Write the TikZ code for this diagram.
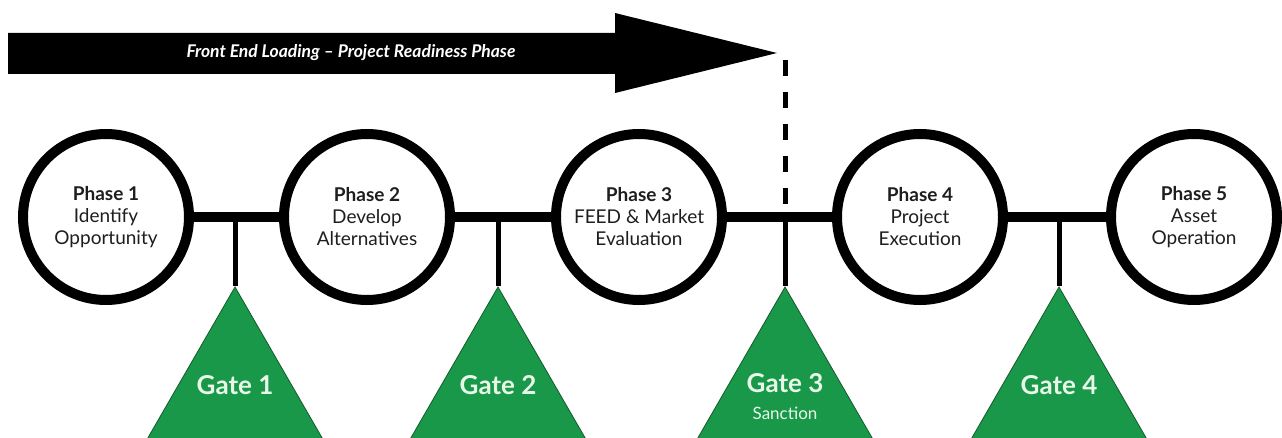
\documentclass[tikz,border=0pt]{standalone}
\usepackage{fontspec}
\setmainfont{Lato}
\usetikzlibrary{shapes.geometric}
\definecolor{gategreen}{RGB}{24,152,72}
\definecolor{gateedge}{RGB}{20,90,45}
\definecolor{gatetxt}{RGB}{232,248,232}
\definecolor{ink}{RGB}{30,30,30}
\tikzset{
  phase/.style={circle, draw=black, line width=10pt, fill=white, minimum size=166pt,
    inner sep=0pt, align=center, text=ink, font=\fontsize{19}{22}\selectfont},
  gate/.style={regular polygon, regular polygon sides=3, minimum size=208pt, inner sep=0pt,
    fill=gategreen, draw=gateedge, line width=0.8pt},
  gatetext/.style={text=gatetxt, font=\fontsize{26}{30}\selectfont\bfseries, align=center},
  bar/.style={line width=10pt},
  stem/.style={line width=5pt},
  dashline/.style={line width=5pt, dash pattern=on 16pt off 16pt},
}
\begin{document}
\begin{tikzpicture}[x=1pt,y=-1pt]
\useasboundingbox (0,0) rectangle (1282,438);
% big arrow
\fill[black] (8,33) -- (615,33) -- (615,13) -- (777,53) -- (615,93) -- (615,74) -- (8,74) -- cycle;
\node[text=white, font=\fontsize{17.5}{20}\selectfont\bfseries\itshape] (fel) at (351,53)
  {Front End Loading -- Project Readiness Phase};
% gates
\node[gate] (g1) at (235,391) {};
\node[gate] (g2) at (498,391) {};
\node[gate] (g3) at (785,391) {};
\node[gate] (g4) at (1059,391) {};
% phases
\node[phase] (p1) at (106,217) {\textbf{Phase 1}\\Identify\\Opportunity};
\node[phase] (p2) at (367,217) {\textbf{Phase 2}\\Develop\\Alternatives};
\node[phase] (p3) at (639,217) {\textbf{Phase 3}\\FEED \& Market\\Evaluation};
\node[phase] (p4) at (920,217) {\textbf{Phase 4}\\Project\\Execution};
\node[phase] (p5) at (1194,217) {\textbf{Phase 5}\\Asset\\Operation};
% bars
\draw[bar] (p1.east) -- (p2.west);
\draw[bar] (p2.east) -- (p3.west);
\draw[bar] (p3.east) -- (p4.west);
\draw[bar] (p4.east) -- (p5.west);
% stems
\coordinate (j1) at (g1.north |- p1.east);
\coordinate (j2) at (g2.north |- p1.east);
\coordinate (j3) at (g3.north |- p1.east);
\coordinate (j4) at (g4.north |- p1.east);
\draw[stem] (j1) -- (g1.north);
\draw[stem] (j2) -- (g2.north);
\draw[stem] (j3) -- (g3.north);
\draw[stem] (j4) -- (g4.north);
% dashed line from arrow tip
\coordinate (tipc) at (785,60);
\draw[dashline] (tipc) -- (j3);
% gate labels
\node[gatetext] (t1) at ([yshift=6pt]g1.center) {Gate 1};
\node[gatetext] (t2) at ([yshift=6pt]g2.center) {Gate 2};
\node[gatetext] (t3) at ([yshift=8pt]g3.center) {Gate 3};
\node[text=gatetxt, font=\fontsize{17}{20}\selectfont] (t3b) at ([yshift=-22pt]g3.center) {Sanction};
\node[gatetext] (t4) at ([yshift=6pt]g4.center) {Gate 4};
\end{tikzpicture}
\end{document}
